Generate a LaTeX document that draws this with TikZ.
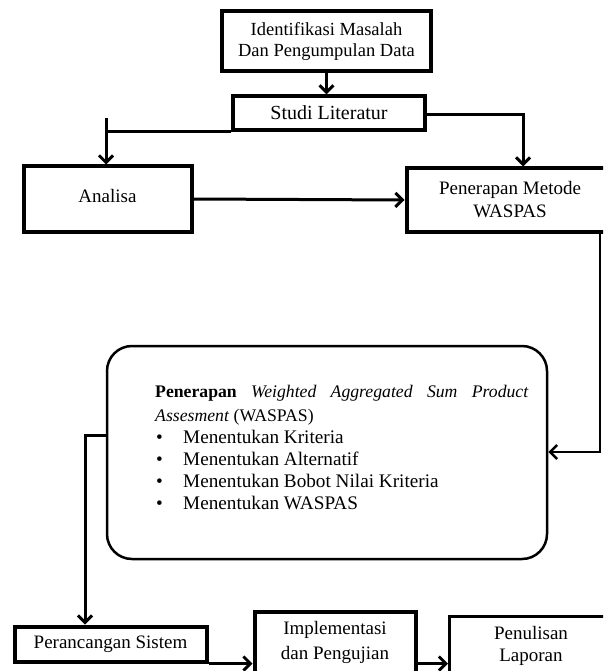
\documentclass[tikz,border=0pt]{standalone}
\usepackage{fontspec}
\setmainfont{Liberation Serif}
\usetikzlibrary{arrows.meta,calc}
\begin{document}
\begin{tikzpicture}[x=1pt,y=-1pt,
  box/.style={draw, line width=3.5pt, inner sep=0pt, align=center, font=\fontsize{19}{21}\selectfont},
  conn/.style={line width=3pt, -{Straight Barb[length=7pt,width=14pt]}},
  plainline/.style={line width=3pt}]
\useasboundingbox (0,0) rectangle (603,671);
\clip (0,0) rectangle (603,671);
\fill[white] (0,0) rectangle (603,671);

\node[box, line width=4pt, minimum width=209pt, minimum height=60pt, font=\fontsize{18.5}{21}\selectfont] (ident) at (326.5,41) {Identifikasi Masalah\\Dan Pengumpulan Data};
\node[box, line width=3.2pt, minimum width=192pt, minimum height=34pt, font=\fontsize{20}{21}\selectfont] (studi) at (329,113) {Studi Literatur};
\node[box, line width=4pt, minimum width=168pt, minimum height=65pt] (analisa) at (107.5,199) {\raisebox{7pt}{Analisa}};
\node[box, line width=4pt, minimum width=207pt, minimum height=63pt, font=\fontsize{19}{23}\selectfont] (metode) at (510,200) {Penerapan Metode\\WASPAS};
\node[draw, line width=2.5pt, rounded corners=25pt, minimum width=440pt, minimum height=213pt] (waspas) at (327,452.5) {};
\node[text width=373pt, align=justify, inner sep=0pt, anchor=north west] (waspasisi) at (155,385) {%
\setlength\parindent{0pt}\hyphenpenalty=10000\exhyphenpenalty=10000%
{\fontsize{17.7}{24}\selectfont\textbf{Penerapan} \textit{Weighted Aggregated Sum Product Assesment} (WASPAS)\par}%
\fontsize{19.2}{22}\selectfont
\makebox[28pt][l]{\hspace{1pt}\textbullet}Menentukan Kriteria\par
\makebox[28pt][l]{\hspace{1pt}\textbullet}Menentukan Alternatif\par
\makebox[28pt][l]{\hspace{1pt}\textbullet}Menentukan Bobot Nilai Kriteria\par
\makebox[28pt][l]{\hspace{1pt}\textbullet}Menentukan WASPAS\par};
\node[box, line width=4pt, minimum width=192pt, minimum height=35pt] (ranc) at (110.5,644) {Perancangan Sistem};
\node[box, line width=4pt, minimum width=161pt, minimum height=62pt, font=\fontsize{19}{25}\selectfont] (impl) at (335,642.5) {Implementasi\\dan Pengujian};
\node[box, line width=3pt, minimum width=163pt, minimum height=59pt, font=\fontsize{19}{22}\selectfont] (tulis) at (531,646) {Penulisan\\Laporan};

% connectors
\draw[conn] (ident.south) -- (ident.south |- studi.north);
\coordinate (stubL) at (106,118);
\draw[plainline] (studi.south west) -- (stubL |- studi.south west);
\draw[conn] (stubL) -- (stubL |- analisa.north);
\coordinate (cornerR) at (523,115);
\draw[conn] (studi.east |- cornerR) -- (cornerR) -- (cornerR |- metode.north);
\draw[conn] (analisa.east) -- (metode.west);
\coordinate (cornerD) at (600,452);
\draw[conn, line width=2.5pt] (metode.south -| cornerD) -- (cornerD) -- (waspas.east |- cornerD);
\coordinate (cornerL) at (85,435);
\draw[conn] (waspas.west |- cornerL) -- (cornerL) -- (cornerL |- ranc.north);
\draw[conn] (ranc.south east) -- (ranc.south east -| impl.west);
\draw[conn] (impl.east |- ranc.south east) -- (tulis.west |- ranc.south east);
\end{tikzpicture}
\end{document}
